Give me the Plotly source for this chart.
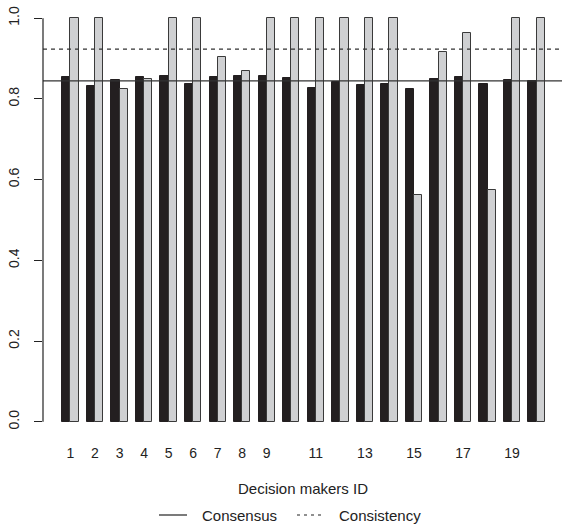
import plotly.graph_objects as go

# ---- data ----
dm_ids = list(range(1, 21))
consensus = [0.854, 0.832, 0.846, 0.855, 0.856, 0.836, 0.854, 0.856, 0.856, 0.851,
             0.828, 0.843, 0.835, 0.838, 0.824, 0.849, 0.853, 0.836, 0.848, 0.844]
consistency = [1.0, 1.0, 0.824, 0.850, 1.0, 1.0, 0.904, 0.869, 1.0, 1.0,
               1.0, 1.0, 1.0, 1.0, 0.561, 0.917, 0.964, 0.575, 1.0, 1.0]
tick_labels = ["1", "2", "3", "4", "5", "6", "7", "8", "9", "",
               "11", "", "13", "", "15", "", "17", "", "19", ""]
y_ticks = [0.0, 0.2, 0.4, 0.6, 0.8, 1.0]

mean_cons = sum(consensus) / len(consensus)
mean_consist = sum(consistency) / len(consistency)

# R barplot(beside=TRUE) geometry: bar width 1, one unit gap between groups
x_dark = [1.5 + 3 * (i - 1) for i in dm_ids]
x_light = [2.5 + 3 * (i - 1) for i in dm_ids]
x_center = [2 + 3 * (i - 1) for i in dm_ids]

FONT = "Liberation Sans, Arial, Helvetica, sans-serif"
L, T, PW, PH = 43, 2, 519, 436


def px_x(p):
    return (p - L) / PW


def px_y(p):
    return 1 - (p - T) / PH


fig = go.Figure()
fig.add_trace(go.Bar(x=x_dark, y=consensus, width=1, name="Consensus",
                     marker=dict(color="#231f20", line=dict(color="#231f20", width=1)),
                     showlegend=False))
fig.add_trace(go.Bar(x=x_light, y=consistency, width=1, name="Consistency",
                     marker=dict(color="#cfd0d2", line=dict(color="#3a3a3a", width=1)),
                     showlegend=False))

leg_y = px_y(515)
shapes = [
    dict(type="line", xref="paper", x0=0, x1=1, yref="y", y0=mean_cons, y1=mean_cons,
         line=dict(color="#333333", width=1.2)),
    dict(type="line", xref="paper", x0=0, x1=1, yref="y", y0=mean_consist, y1=mean_consist,
         line=dict(color="#333333", width=1.2, dash="4px,4px")),
    dict(type="line", xref="paper", x0=0, x1=0, yref="y", y0=y_ticks[0], y1=y_ticks[-1],
         line=dict(color="#222222", width=1.2)),
    dict(type="line", xref="paper", yref="paper", x0=px_x(159), x1=px_x(187),
         y0=leg_y, y1=leg_y, line=dict(color="#222222", width=1.2)),
    dict(type="line", xref="paper", yref="paper", x0=px_x(297), x1=px_x(323),
         y0=leg_y, y1=leg_y, line=dict(color="#222222", width=1.2, dash="3px,4px")),
]

annotations = [
    dict(text="Decision makers ID", xref="paper", yref="paper",
         x=px_x(303), y=px_y(488), showarrow=False,
         xanchor="center", yanchor="middle", font=dict(size=15, color="#222222", family=FONT)),
    dict(text="Consensus", xref="paper", yref="paper",
         x=px_x(200), y=leg_y, showarrow=False,
         xanchor="left", yanchor="middle", font=dict(size=15, color="#222222", family=FONT)),
    dict(text="Consistency", xref="paper", yref="paper",
         x=px_x(337), y=leg_y, showarrow=False,
         xanchor="left", yanchor="middle", font=dict(size=15, color="#222222", family=FONT)),
]

fig.update_layout(
    width=562, height=526,
    margin=dict(l=L, r=0, t=T, b=526 - T - PH),
    paper_bgcolor="white", plot_bgcolor="white",
    barmode="overlay", bargap=0,
    font=dict(family=FONT, size=14, color="#222222"),
    shapes=shapes, annotations=annotations,
    xaxis=dict(range=[-1.36, 62.1], tickmode="array", tickvals=x_center, ticktext=tick_labels,
               showline=False, showgrid=False, zeroline=False, ticks="",
               ticklabelstandoff=5, tickfont=dict(size=14)),
    yaxis=dict(range=[-0.04, 1.04], tickmode="array", tickvals=y_ticks,
               ticktext=["%.1f" % v for v in y_ticks], tickangle=-90,
               showline=False, showgrid=False, zeroline=False, ticks="outside",
               ticklen=8, tickcolor="#222222", tickwidth=1.2,
               ticklabelstandoff=9, tickfont=dict(size=14)),
)

fig.write_html("out.html", config={"displayModeBar": False},
               post_script="document.body.style.margin='0px';")
